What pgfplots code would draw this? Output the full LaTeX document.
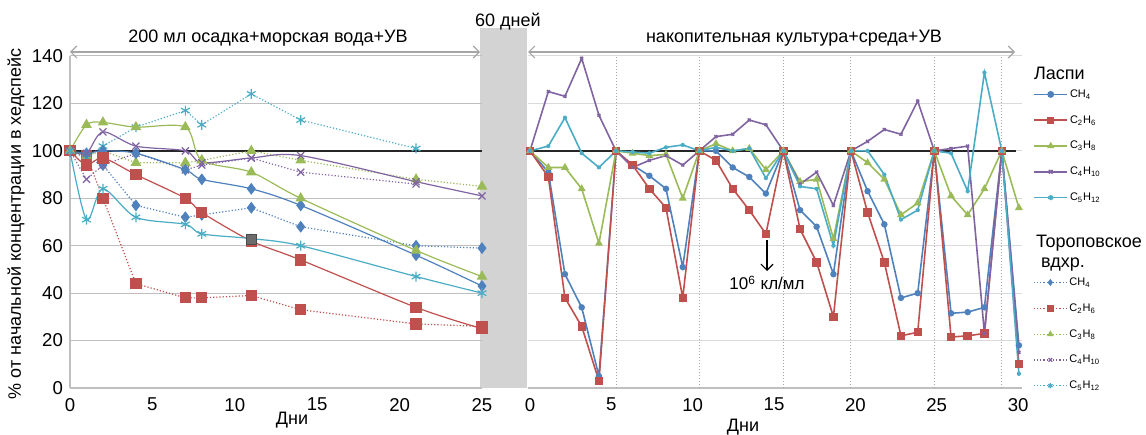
\documentclass[border=0pt]{standalone}
\usepackage{fontspec}
\setmainfont{Liberation Sans}
\usepackage{pgfplots}
\pgfplotsset{compat=1.18}
\usetikzlibrary{arrows.meta}

\definecolor{cA}{HTML}{4F81BD}
\definecolor{cB}{HTML}{C0504D}
\definecolor{cC}{HTML}{9BBB59}
\definecolor{cD}{HTML}{8064A2}
\definecolor{cE}{HTML}{4BACC6}
\definecolor{gridc}{HTML}{BFBFBF}
\definecolor{gridl}{HTML}{DADADA}
\definecolor{bandc}{HTML}{D3D3D3}
\definecolor{arrc}{HTML}{A6A6A6}

\pgfplotsset{
  every axis/.append style={
    scale only axis, anchor=south west,
    ymin=0, ymax=140, ytick={0,20,...,140},
    axis x line*=bottom, axis y line*=left,
    axis line style={draw=gridc, line width=0.6pt},
    tick style={draw=none},
    ymajorgrids, major grid style={draw=gridc, line width=0.5pt},
    tick label style={font=\fontsize{9.3}{11}\selectfont},
    x tick label style={yshift=-1.5pt},
    /pgf/number format/assume math mode=true,
    clip=false,
    legend cell align=left,
    legend style={draw=none, fill=none, inner sep=0pt, row sep=7.9pt, column sep=1pt,
      font=\fontsize{5.5}{6}\selectfont,
      nodes={inner sep=0pt, text height=4pt, text depth=1pt}},
    legend image post style={mark size=1.3pt},
  },
  sl/.style={#1, line width=0.6pt, smooth, tension=0.5, mark size=2.5pt, mark options={solid, fill=#1}},
  dl/.style={#1, line width=0.6pt, densely dotted, mark size=2.5pt, mark options={solid, fill=#1}},
  rl/.style={#1, line width=0.8pt, mark size=1.2pt, mark options={solid, fill=#1}},
}

\begin{document}
\begin{tikzpicture}
\useasboundingbox (0,0) rectangle (573pt,217pt);
\begin{scope}[x=0.5pt, y=-0.5pt, shift={(0pt,217pt)}]
  \fill[bandc] (480,28) rectangle (527,388);
\end{scope}

% left panel: 200 ml sediment
\begin{axis}[at={(35pt,23pt)}, width=206pt, height=166pt,
  xmin=0, xmax=25, xtick={0,5,...,25},
  legend image code/.code={\draw[mark repeat=2,mark phase=2,#1] plot coordinates {(0pt,0pt) (8.25pt,0pt) (16.5pt,0pt)};},
  legend style={at={(2.337,0.334)}, anchor=north west}]
\addplot[forget plot, black!85, line width=0.8pt] coordinates {(0,100) (25,100)};
% Тороповское (dotted)
\addplot[dl=cA, mark=diamond*] coordinates {(0,100) (1,97) (2,94) (4,77) (7,72) (8,73) (11,76) (14,68) (21,60) (25,59)};
\addplot[dl=cB, mark=square*] coordinates {(0,100) (1,98) (2,80) (4,44) (7,38) (8,38) (11,39) (14,33) (21,27) (25,26)};
\addplot[dl=cC, mark=triangle*] coordinates {(0,100) (1,98) (2,100) (4,95) (7,95) (8,96) (11,100) (14,96) (21,88) (25,85)};
\addplot[dl=cD, mark=x] coordinates {(0,100) (1,88) (2,94) (4,99) (7,92) (8,94) (11,97) (14,91) (21,86)};
\addplot[dl=cE, mark=asterisk] coordinates {(0,100) (1,97) (2,102) (4,110) (7,117) (8,111) (11,124) (14,113) (21,101)};
% Ласпи (solid)
\addplot[sl=cA, mark=diamond*] coordinates {(0,100) (1,99) (2,100) (4,99) (7,92) (8,88) (11,84) (14,77) (21,56) (25,43)};
\addplot[sl=cB, mark=square*] coordinates {(0,100) (1,94) (2,97) (4,90) (7,80) (8,74) (11,62) (14,54) (21,34) (25,25)};
\addplot[sl=cC, mark=triangle*] coordinates {(0,100) (1,111) (2,112) (4,110) (7,110) (8,96) (11,91) (14,80) (21,58) (25,47)};
\addplot[sl=cD, mark=x] coordinates {(0,100) (1,99) (2,108) (4,102) (7,100) (8,95) (11,97) (14,98) (21,87) (25,81)};
\addplot[sl=cE, mark=asterisk] coordinates {(0,100) (1,71) (2,84) (4,72) (7,69) (8,65) (11,63) (14,60) (21,47) (25,40)};
\addplot[forget plot, only marks, mark=square*, mark size=2.5pt, draw=gray!60!black, fill=gray!85!black] coordinates {(11,62.5)};
\legend{CH\textsubscript{4}, C\textsubscript{2}H\textsubscript{6}, C\textsubscript{3}H\textsubscript{8}, C\textsubscript{4}H\textsubscript{10}, C\textsubscript{5}H\textsubscript{12}}
\end{axis}

% right panel: enrichment culture
\begin{axis}[at={(264pt,23pt)}, width=247pt, height=166pt,
  xmin=-0.12, xmax=30.24, xtick={0,5,...,30}, yticklabels={},
  y axis line style={draw=none},
  major grid style={draw=gridl, line width=0.5pt},
  extra x ticks={5.29,10.41,15.57,19.73,24.85,29.0}, extra x tick labels={},
  extra x tick style={grid=major, major grid style={draw=gray!70, densely dotted, line width=0.5pt}},
  legend image code/.code={\draw[mark repeat=2,mark phase=2,#1] plot coordinates {(0pt,0pt) (8.25pt,0pt) (16.5pt,0pt)};},
  legend style={at={(1.0223,0.9006)}, anchor=north west}]
\addplot[forget plot, black!85, line width=0.8pt] coordinates {(-0.12,100) (29.9,100)};
\addplot[rl=cA, mark=*] coordinates {(0,100) (1.13,91) (2.15,48) (3.18,34) (4.24,5) (5.29,100)
  (6.31,94) (7.34,89.5) (8.36,84) (9.39,51) (10.41,100)
  (11.43,100) (12.46,93) (13.48,89) (14.5,82) (15.57,100)
  (16.6,75) (17.62,68) (18.65,48) (19.73,100)
  (20.75,83) (21.78,69) (22.8,38) (23.83,40) (24.85,100)
  (25.88,31.5) (26.9,32) (27.93,34) (29.0,100) (30.05,18)};
\addplot[rl=cB, mark=square*, mark size=1.7pt] coordinates {(0,100) (1.13,89) (2.15,38) (3.18,26) (4.24,3) (5.29,100)
  (6.31,94) (7.34,84) (8.36,76) (9.39,38) (10.41,100)
  (11.43,96) (12.46,84) (13.48,75) (14.5,65) (15.57,100)
  (16.6,67) (17.62,53) (18.65,30) (19.73,100)
  (20.75,74) (21.78,53) (22.8,22) (23.83,23.5) (24.85,100)
  (25.88,21.5) (26.9,22) (27.93,23) (29.0,100) (30.05,10)};
\addplot[rl=cC, mark=triangle*, mark size=1.5pt] coordinates {(0,100) (1.13,93) (2.15,93) (3.18,84) (4.24,61) (5.29,100)
  (6.31,99) (7.34,98) (8.36,98.5) (9.39,80) (10.41,100)
  (11.43,103) (12.46,100) (13.48,101) (14.5,92) (15.57,100)
  (16.6,87) (17.62,88) (18.65,63) (19.73,100)
  (20.75,95) (21.78,88) (22.8,73) (23.83,78) (24.85,100)
  (25.88,81) (26.9,73) (27.93,84) (29.0,100) (30.05,76)};
\addplot[rl=cD, mark=x, mark size=1pt] coordinates {(0,100) (1.13,125) (2.15,123) (3.18,139) (4.24,115) (5.29,100)
  (6.31,93) (7.34,96) (8.36,98) (9.39,94) (10.41,100)
  (11.43,106) (12.46,107) (13.48,113) (14.5,111) (15.57,100)
  (16.6,86) (17.62,91) (18.65,77) (19.73,100)
  (20.75,104) (21.78,109) (22.8,107) (23.83,121) (24.85,100)
  (25.88,101) (26.9,102) (27.93,23) (29.0,100) (30.05,15)};
\addplot[rl=cE, mark=asterisk, mark size=1pt] coordinates {(0,100) (1.13,102) (2.15,114) (3.18,99) (4.24,93) (5.29,100)
  (6.31,99.5) (7.34,99) (8.36,101.5) (9.39,102.5) (10.41,100)
  (11.43,101.5) (12.46,100) (13.48,101) (14.5,88.5) (15.57,100)
  (16.6,85) (17.62,84) (18.65,60) (19.73,100)
  (20.75,100) (21.78,90) (22.8,71) (23.83,75) (24.85,100)
  (25.88,99) (26.9,83) (27.93,133) (29.0,100) (30.05,6)};
\legend{CH\textsubscript{4}, C\textsubscript{2}H\textsubscript{6}, C\textsubscript{3}H\textsubscript{8}, C\textsubscript{4}H\textsubscript{10}, C\textsubscript{5}H\textsubscript{12}}
\end{axis}

\begin{scope}[x=0.5pt, y=-0.5pt, shift={(0pt,217pt)}, font=\fontsize{9}{11}\selectfont]
  \draw[arrc, line width=0.6pt, {Straight Barb[length=3pt,width=6pt]}-{Straight Barb[length=3pt,width=6pt]}] (70,52) -- (480,52);
  \draw[arrc, line width=0.6pt, {Straight Barb[length=3pt,width=6pt]}-{Straight Barb[length=3pt,width=6pt]}] (528,52) -- (1015,52);
  \node at (268,38) {200 мл осадка+морская вода+УВ};
  \node at (508,22) {60 дней};
  \node at (794,38) {накопительная культура+среда+УВ};
  \node[rotate=90] at (16,224) {\% от начальной концентрации в хедспейс};
  \node at (292,420) {Дни};
  \node at (743,427) {Дни};
  \draw[black, line width=0.6pt, -{Straight Barb[length=3pt,width=6pt]}] (767,240) -- (767,271);
  \node[font=\fontsize{8.5}{10}\selectfont] at (767,283) {10\textsuperscript{6} кл/мл};
  \node[anchor=west] at (1027,73) {Ласпи};
  \node[anchor=west] at (1029,243) {Тороповское};
  \node[anchor=west] at (1034,265) {вдхр.};
\end{scope}
\end{tikzpicture}
\end{document}
